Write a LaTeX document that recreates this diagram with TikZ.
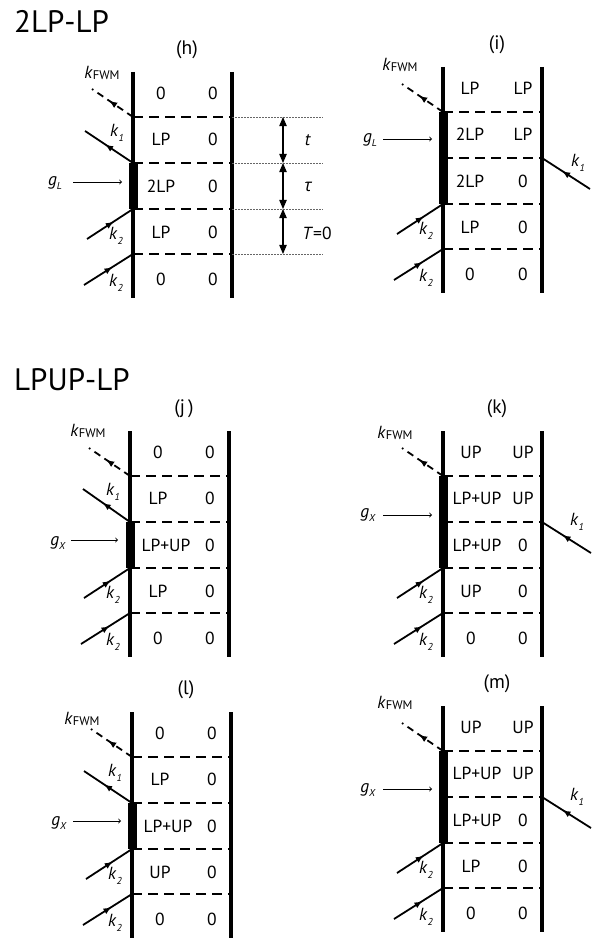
\documentclass[tikz,border=0pt]{standalone}
\usepackage{fontspec}
\setmainfont{PT Sans}
\newfontfamily\grkfont{Open Sans}
\usetikzlibrary{arrows,arrows.meta,decorations.markings}

\newcommand{\kk}[1]{\textit{k}\raisebox{-0.5ex}{\fontsize{10}{10}\selectfont\textit{#1}}}
\newcommand{\kfwm}{\textit{k}\raisebox{-0.2ex}{\fontsize{12.5}{12}\selectfont FWM}}
\newcommand{\gsub}[1]{\textit{g}\raisebox{-0.5ex}{\fontsize{10}{10}\selectfont\textit{#1}}}

\tikzset{
  wall/.style={line width=3.2pt},
  cut/.style={line width=1.8pt,dash pattern=on 10pt off 6pt},
  guide/.style={line width=0.7pt,black!60,dash pattern=on 2pt off 1pt},
  beam/.style={line width=1.8pt,postaction={decorate},
    decoration={markings,mark=at position 0.58 with {\arrow{Latex[length=8pt,width=6.5pt]}}}},
  signal/.style={beam,dash pattern=on 7pt off 5pt},
  pump/.style={line width=0.9pt,-to},
  span/.style={line width=1.1pt,<->},
  bar/.style={fill=black},
  cell/.style={font=\fontsize{17.5}{20}\selectfont},
  lbl/.style={font=\fontsize{17.5}{20}\selectfont},
  tag/.style={font=\fontsize{19.5}{22}\selectfont},
  head/.style={font=\fontsize{31}{34}\selectfont,anchor=west,inner sep=0pt},
}

% one ladder: #1 name, #2 left wall x, #3 first cut y, #4 label, #5 rows,
% #6/#7 shift of the k_FWM label
\newcommand{\ladder}[7]{%
  \coordinate (#1-lt) at (#2,#3-45);
  \coordinate (#1-lb) at (#2,#3+181);
  \coordinate (#1-rt) at (#2+99,#3-45);
  \coordinate (#1-rb) at (#2+99,#3+181);
  \draw[wall] (#1-lt) -- (#1-lb);
  \draw[wall] (#1-rt) -- (#1-rb);
  \foreach \i/\dy in {1/0,2/46,3/92,4/137}{
    \coordinate (#1-l\i) at (#2,#3+\dy);
    \coordinate (#1-r\i) at (#2+99,#3+\dy);
    \draw[cut] (#1-l\i) -- (#1-r\i);
  }
  \node[tag] (#1-name) at (#2+54,#3-67) {#4};
  \foreach \a/\b/\dx [count=\rr] in {#5}{
    \node[cell] (#1-a\rr) at (#2+\dx,#3-70.5+46.5*\rr) {\a};
    \node[cell] (#1-b\rr) at (#2+80,#3-70.5+46.5*\rr) {\b};
  }
  \coordinate (#1-fwm) at (#2-41,#3-28);
  \draw[signal] (#1-l1) -- (#1-fwm);
  \node[lbl] (#1-kfwm) at (#2+#6,#3+#7) {\kfwm};
  \coordinate (#1-in3) at (#2-46,#3+122);
  \coordinate (#1-in4) at (#2-49,#3+168);
  \draw[beam] (#1-in3) -- (#1-l3);
  \draw[beam] (#1-in4) -- (#1-l4);
  \node[lbl] (#1-k2a) at (#2-17,#3+119) {\kk{2}};
  \node[lbl] (#1-k2b) at (#2-17,#3+166) {\kk{2}};
}

\begin{document}
\begin{tikzpicture}[line cap=butt,line join=round,>=triangle 45,x=1pt,y=-1pt]
\useasboundingbox (0,0) rectangle (602,941);

\node[head] (sec1) at (14,21) {2LP-LP};
\node[head] (sec2) at (14,380) {LPUP-LP};

% (h)
\ladder{h}{133}{117}{(h)}{0/0/28,LP/0/28,2LP/0/28,LP/0/28,0/0/28}{-31}{-44}
\fill[bar] ([xshift=-4.5pt]h-l2) rectangle ([xshift=4.5pt]h-l3);
\coordinate (h-g) at (73,182);
\coordinate (h-gt) at (122,182);
\draw[pump] (h-g) -- (h-gt);
\node[lbl] (h-glbl) at (55,183) {\gsub{L}};
\coordinate (h-k1) at (85,131);
\draw[beam] (h-l2) -- (h-k1);
\node[lbl] (h-k1lbl) at (117,133) {\kk{1}};
\foreach \i/\y in {1/117,2/163,3/209,4/254}{
  \coordinate (h-e\i) at (323,\y);
  \coordinate (h-m\i) at (283,\y);
  \draw[guide] (h-r\i) -- (h-e\i);
}
\draw[span] (h-m1) -- (h-m2);
\draw[span] (h-m2) -- (h-m3);
\draw[span] (h-m3) -- (h-m4);
\node[lbl] (h-t) at (308,140) {\textit{t}};
\node[lbl] (h-tau) at (308,187) {\grkfont\itshape τ};
\node[lbl] (h-T) at (317,233) {\textit{T}=0};

% (i)
\ladder{i}{443}{112}{(i)}{LP/LP/27,2LP/LP/27,2LP/0/27,LP/0/27,0/0/27}{-43}{-47}
\fill[bar] ([xshift=-4.5pt]i-l1) rectangle ([xshift=4.5pt]i-l3);
\coordinate (i-g) at (383,139);
\coordinate (i-gt) at (432,139);
\draw[pump] (i-g) -- (i-gt);
\node[lbl] (i-glbl) at (370,140) {\gsub{L}};
\coordinate (i-k1) at (590,189);
\draw[beam] (i-k1) -- (i-r2);
\node[lbl] (i-k1lbl) at (578,163) {\kk{1}};

% (j)
\ladder{j}{130}{476}{(j\,)}{0/0/28,LP/0/28,LP+UP/0/36,LP/0/28,0/0/28}{-42}{-45}
\fill[bar] ([xshift=-4.5pt]j-l2) rectangle ([xshift=4.5pt]j-l3);
\coordinate (j-g) at (71,540);
\coordinate (j-gt) at (118,540);
\draw[pump] (j-g) -- (j-gt);
\node[lbl] (j-glbl) at (58,543) {\gsub{X}};
\coordinate (j-k1) at (83,489);
\draw[beam] (j-l2) -- (j-k1);
\node[lbl] (j-k1lbl) at (113,492) {\kk{1}};

% (k)
\ladder{k}{443}{476}{(k)}{UP/UP/28,LP+UP/UP/34,LP+UP/0/34,UP/0/28,0/0/28}{-48}{-43}
\fill[bar] ([xshift=-4.5pt]k-l1) rectangle ([xshift=4.5pt]k-l3);
\coordinate (k-g) at (383,515);
\coordinate (k-gt) at (432,515);
\draw[pump] (k-g) -- (k-gt);
\node[lbl] (k-glbl) at (368,515) {\gsub{X}};
\coordinate (k-k1) at (591,553);
\draw[beam] (k-k1) -- (k-r2);
\node[lbl] (k-k1lbl) at (577,522) {\kk{1}};

% (l)
\ladder{l}{132}{757}{(l)}{0/0/28,LP/0/28,LP+UP/0/36,UP/0/28,0/0/28}{-50}{-38}
\fill[bar] ([xshift=-4.5pt]l-l2) rectangle ([xshift=4.5pt]l-l3);
\coordinate (l-g) at (73,821);
\coordinate (l-gt) at (121,821);
\draw[pump] (l-g) -- (l-gt);
\node[lbl] (l-glbl) at (59,823) {\gsub{X}};
\coordinate (l-k1) at (84,771);
\draw[beam] (l-l2) -- (l-k1);
\node[lbl] (l-k1lbl) at (115,773) {\kk{1}};

% (m)
\ladder{m}{443}{751}{(m)}{UP/UP/28,LP+UP/UP/34,LP+UP/0/34,LP/0/28,0/0/28}{-48}{-48}
\fill[bar] ([xshift=-4.5pt]m-l1) rectangle ([xshift=4.5pt]m-l3);
\coordinate (m-g) at (383,789);
\coordinate (m-gt) at (432,789);
\draw[pump] (m-g) -- (m-gt);
\node[lbl] (m-glbl) at (368,790) {\gsub{X}};
\coordinate (m-k1) at (591,828);
\draw[beam] (m-k1) -- (m-r2);
\node[lbl] (m-k1lbl) at (577,797) {\kk{1}};
\end{tikzpicture}
\end{document}
